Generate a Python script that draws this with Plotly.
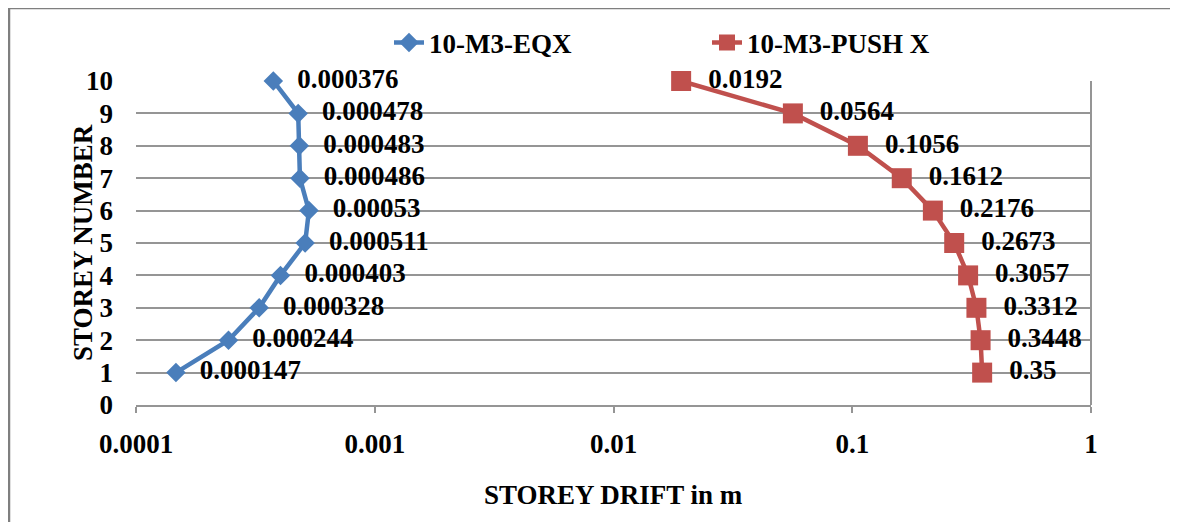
import plotly.graph_objects as go

storeys = [1, 2, 3, 4, 5, 6, 7, 8, 9, 10]
eqx_drift = [0.000147, 0.000244, 0.000328, 0.000403, 0.000511, 0.00053, 0.000486, 0.000483, 0.000478, 0.000376]
push_drift = [0.35, 0.3448, 0.3312, 0.3057, 0.2673, 0.2176, 0.1612, 0.1056, 0.0564, 0.0192]
eqx_labels = ["0.000147", "0.000244", "0.000328", "0.000403", "0.000511", "0.00053", "0.000486", "0.000483", "0.000478", "0.000376"]
push_labels = ["0.35", "0.3448", "0.3312", "0.3057", "0.2673", "0.2176", "0.1612", "0.1056", "0.0564", "0.0192"]
x_tickvals = [0.0001, 0.001, 0.01, 0.1, 1]
x_ticktext = ["0.0001", "0.001", "0.01", "0.1", "1"]
y_tickvals = [0, 1, 2, 3, 4, 5, 6, 7, 8, 9, 10]

FONT = "Liberation Serif"
BLUE = "#4A7EBB"
RED = "#C0504D"
GRID = "#959595"
FS = 27

# page has an 8px body margin; figure sized to fit the 1178x522 window
OFF = 8
W, H = 1178 - OFF, 522 - OFF
L, R, T, B = 136 - OFF, 87, 81 - OFF, 117
pw, ph = W - L - R, H - T - B

fig = go.Figure()
fig.add_trace(go.Scatter(
    x=eqx_drift, y=storeys, mode="lines+markers+text", name="10-M3-EQX",
    line=dict(color=BLUE, width=4.5),
    marker=dict(symbol="diamond", size=15, color=BLUE),
    text=eqx_labels, texttemplate="  <b>%{text}</b>", textposition="middle right",
    textfont=dict(family=FONT, size=FS, color="black", weight="bold"),
    cliponaxis=False,
))
fig.add_trace(go.Scatter(
    x=push_drift, y=storeys, mode="lines+markers+text", name="10-M3-PUSH X",
    line=dict(color=RED, width=4.5),
    marker=dict(symbol="square", size=20, color=RED),
    text=push_labels, texttemplate="  <b>%{text}</b>", textposition="middle right",
    textfont=dict(family=FONT, size=FS, color="black", weight="bold"),
    cliponaxis=False,
))

fig.update_layout(
    width=W, height=H,
    margin=dict(l=L, r=R, t=T, b=B, autoexpand=False),
    paper_bgcolor="white", plot_bgcolor="white",
    font=dict(family=FONT, size=FS, color="black", weight="bold"),
    showlegend=True,
    legend=dict(
        orientation="h", x=(389 - OFF - L) / pw, xanchor="left",
        y=1 + (T - (43 - OFF)) / ph, yanchor="middle",
        entrywidth=273, entrywidthmode="pixels",
        font=dict(family=FONT, size=FS, color="black", weight="bold"),
        bgcolor="rgba(0,0,0,0)",
    ),
    xaxis=dict(
        type="log", range=[-4, 0], automargin=False,
        tickvals=x_tickvals, ticktext=x_ticktext,
        showgrid=False, zeroline=False,
        showline=True, linecolor=GRID, linewidth=2,
        ticks="outside", ticklen=6, tickcolor=GRID, tickwidth=2,
        ticklabelstandoff=8,
        tickfont=dict(family=FONT, size=FS, color="black", weight="bold"),
    ),
    yaxis=dict(
        range=[0, 10], tickvals=y_tickvals, automargin=False,
        showgrid=True, gridcolor=GRID, gridwidth=2,
        zeroline=False, showline=False, ticks="",
        ticklabelstandoff=22,
        tickfont=dict(family=FONT, size=FS, color="black", weight="bold"),
    ),
    shapes=[
        dict(type="line", xref="paper", yref="paper", x0=1, x1=1, y0=0, y1=1,
             line=dict(color=GRID, width=2)),
        dict(type="rect", xref="paper", yref="paper",
             x0=(1 - L) / pw, x1=(W + 20 - L) / pw,
             y0=-(B + 20) / ph, y1=1 + (T - 0) / ph,
             line=dict(color="#7F7F7F", width=2.5), layer="below"),
    ],
    annotations=[
        dict(text="<b>STOREY DRIFT in m</b>", xref="paper", yref="paper",
             x=0.5, y=-(495 - 81 - ph) / ph, xanchor="center", yanchor="middle",
             showarrow=False,
             font=dict(family=FONT, size=FS, color="black", weight="bold")),
        dict(text="<b>STOREY NUMBER</b>", xref="paper", yref="paper",
             x=-(136 - 83) / pw, y=0.5, xanchor="center", yanchor="middle",
             textangle=-90, showarrow=False,
             font=dict(family=FONT, size=FS, color="black", weight="bold")),
    ],
)

fig.write_html("out.html")
